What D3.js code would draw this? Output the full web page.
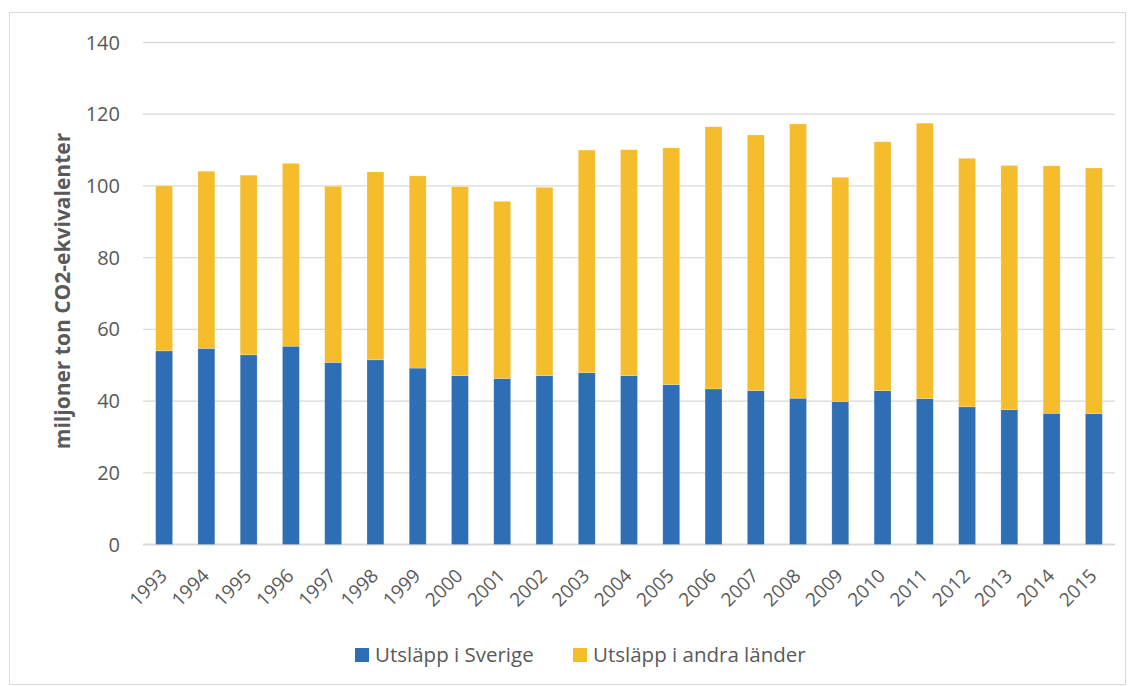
<!DOCTYPE html>
<html>
<head>
<meta charset="utf-8">
<script src="https://cdn.jsdelivr.net/npm/d3@7"></script>
<style>
  body { margin: 0; background: #fff; }
  text { font-family: "Open Sans", sans-serif; fill: #595959; }
</style>
</head>
<body>
<script>
// data (miljoner ton CO2-ekvivalenter)
var years = ["1993","1994","1995","1996","1997","1998","1999","2000","2001","2002","2003","2004",
             "2005","2006","2007","2008","2009","2010","2011","2012","2013","2014","2015"];
var sverige = [54.0,54.7,52.9,55.3,50.8,51.5,49.2,47.1,46.3,47.1,47.9,47.1,
               44.6,43.4,42.9,40.8,39.9,42.9,40.7,38.4,37.6,36.6,36.5];
var totals = [100.0,104.1,103.0,106.3,99.9,103.9,102.8,99.8,95.7,99.6,110.0,110.1,
              110.6,116.5,114.2,117.3,102.4,112.3,117.5,107.7,105.7,105.6,105.0];
var andra = totals.map(function(t,i){ return +(t - sverige[i]).toFixed(1); });
var yTicks = [0,20,40,60,80,100,120,140];
var seriesNames = ["Utsläpp i Sverige","Utsläpp i andra länder"];
var colors = ["#2E6EB4","#F5BD2C"];

var w=1131, h=686;
var svg=d3.select("body").append("svg")
	.attr("width",w)
	.attr("height",h);

// chart border
svg.append("rect")
	.attr("x",9.5).attr("y",12.5)
	.attr("width",1116).attr("height",672)
	.style("fill","none")
	.style("stroke","#d9d9d9");

var x=d3.scaleBand()
	.domain(years)
	.range([143,1115]);
var y=d3.scaleLinear()
	.domain([0,140])
	.range([544.5,42.5]);

// gridlines + tick labels
svg.selectAll(".grid")
	.data(yTicks)
	.enter()
	.append("line")
	.attr("x1",143).attr("x2",1115)
	.attr("y1",function(d){ return y(d); })
	.attr("y2",function(d){ return y(d); })
	.style("stroke","#d9d9d9")
	.style("stroke-width",function(d){ return d===0 ? 2 : 1.3; });

svg.selectAll(".ytick")
	.data(yTicks)
	.enter()
	.append("text")
	.attr("x",120)
	.attr("y",function(d){ return y(d)+7; })
	.attr("text-anchor","end")
	.style("font-size","20px")
	.text(function(d){ return d; });

// stacked bars
var stack=d3.stack().keys([0,1]).value(function(d,k){ return d[k]; });
var rows=years.map(function(yr,i){ return [sverige[i],andra[i]]; });
var layers=stack(rows);
var barW=x.bandwidth()*0.4;

svg.selectAll(".layer")
	.data(layers)
	.enter()
	.append("g")
	.style("fill",function(d,i){ return colors[i]; })
	.selectAll("rect")
	.data(function(d){ return d; })
	.enter()
	.append("rect")
	.attr("x",function(d,i){ return x(years[i])+x.bandwidth()/2-barW/2; })
	.attr("width",barW)
	.attr("y",function(d){ return y(d[1]); })
	.attr("height",function(d){ return y(d[0])-y(d[1]); })
	.style("stroke","#ffffff")
	.style("stroke-opacity",0.35)
	.style("stroke-width",0.6);

// x labels rotated
svg.selectAll(".xlab")
	.data(years)
	.enter()
	.append("text")
	.attr("text-anchor","end")
	.attr("transform",function(d){
		return "translate("+(x(d)+x.bandwidth()/2+4)+",577) rotate(-45)";
	})
	.style("font-size","19px")
	.text(function(d){ return d; });

// y axis title
svg.append("text")
	.attr("transform","translate(70,291) rotate(-90)")
	.attr("text-anchor","middle")
	.style("font-size","21px")
	.style("font-weight","bold")
	.text("miljoner ton CO2-ekvivalenter");

// legend
var legX=[355,573];
var leg=svg.selectAll(".leg")
	.data(seriesNames)
	.enter()
	.append("g")
	.attr("transform",function(d,i){ return "translate("+legX[i]+",648)"; });
leg.append("rect")
	.attr("width",14).attr("height",14)
	.style("fill",function(d,i){ return colors[i]; });
leg.append("text")
	.attr("x",20).attr("y",14)
	.style("font-size",("20.5px"))
	.text(function(d){ return d; });
</script>
</body>
</html>
